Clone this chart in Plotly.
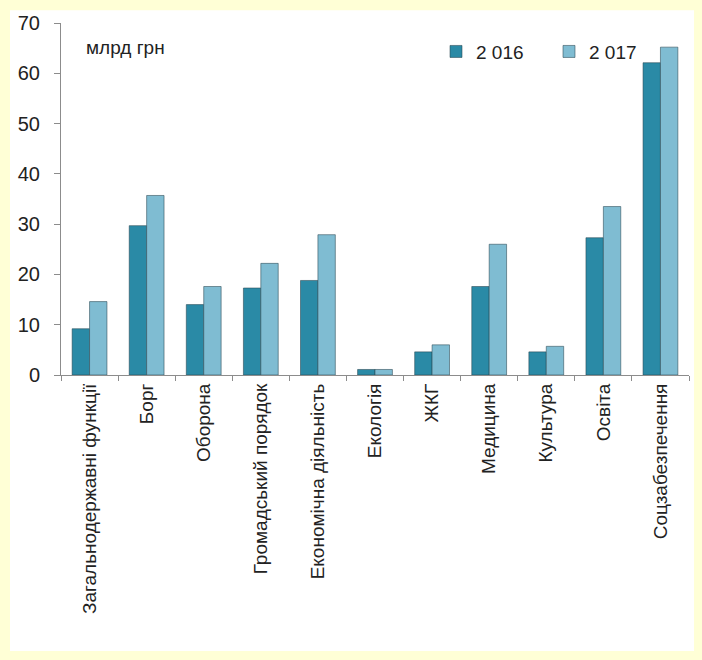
import plotly.graph_objects as go

categories = ["Загальнодержавні функції", "Борг", "Оборона", "Громадський порядок",
              "Економічна діяльність", "Екологія", "ЖКГ", "Медицина", "Культура",
              "Освіта", "Соцзабезпечення"]
values_2016 = [9.2, 29.7, 14.0, 17.3, 18.8, 1.1, 4.6, 17.6, 4.6, 27.3, 62.1]
values_2017 = [14.6, 35.7, 17.6, 22.2, 27.9, 1.1, 6.0, 26.0, 5.7, 33.5, 65.2]
series_names = ["2 016", "2 017"]
y_ticks = [0, 10, 20, 30, 40, 50, 60, 70]

W, H = 702, 660
L, R, T, B = 61, 13, 18, 285
pw, ph = W - L - R, H - T - B

def px_x(x):
    return (x - L) / pw

def px_y(y):
    return (H - B - y) / ph

fig = go.Figure()
fig.add_bar(x=categories, y=values_2016, name=series_names[0],
            marker=dict(color="#2A8AA6", line=dict(color="rgba(40,70,80,0.55)", width=1)))
fig.add_bar(x=categories, y=values_2017, name=series_names[1],
            marker=dict(color="#7FBCD2", line=dict(color="rgba(40,70,80,0.55)", width=1)))

fig.add_shape(type="rect", xref="paper", yref="paper",
              x0=px_x(10), x1=px_x(694), y0=px_y(655), y1=px_y(5),
              fillcolor="white", line=dict(width=0), layer="below")

fig.add_annotation(text="млрд грн", xref="paper", yref="paper",
                   x=px_x(84), y=px_y(43), xanchor="left", yanchor="middle",
                   showarrow=False, font=dict(size=19, color="#222222"))

fig.update_layout(
    width=W, height=H,
    margin=dict(l=L, r=R, t=T, b=B),
    paper_bgcolor="#FFFFD6",
    plot_bgcolor="white",
    font=dict(family="Liberation Sans, Arial, sans-serif", color="#222222"),
    barmode="group", bargap=0.39, bargroupgap=0,
    legend=dict(orientation="h", x=px_x(436), y=px_y(47), xanchor="left", yanchor="middle",
                font=dict(size=19, color="#222222"), bgcolor="rgba(0,0,0,0)",
                entrywidth=68, entrywidthmode="pixels", itemwidth=30),
    xaxis=dict(showline=True, linecolor="#8c8c8c", linewidth=1, ticks="outside",
               tickson="boundaries", ticklen=5, tickcolor="#8c8c8c", tickangle=-90,
               tickfont=dict(size=19, color="#222222"), showgrid=False),
    yaxis=dict(range=[0, 70], tickvals=y_ticks, showline=True, linecolor="#8c8c8c",
               linewidth=1, ticks="outside", ticklen=6, tickcolor="#8c8c8c",
               tickfont=dict(size=20, color="#222222"), showgrid=False, zeroline=False,
               ticklabelstandoff=10),
)

fig.write_html("out.html", config={"displayModeBar": False},
               post_script="document.body.style.margin='0';document.body.style.overflow='hidden';")
